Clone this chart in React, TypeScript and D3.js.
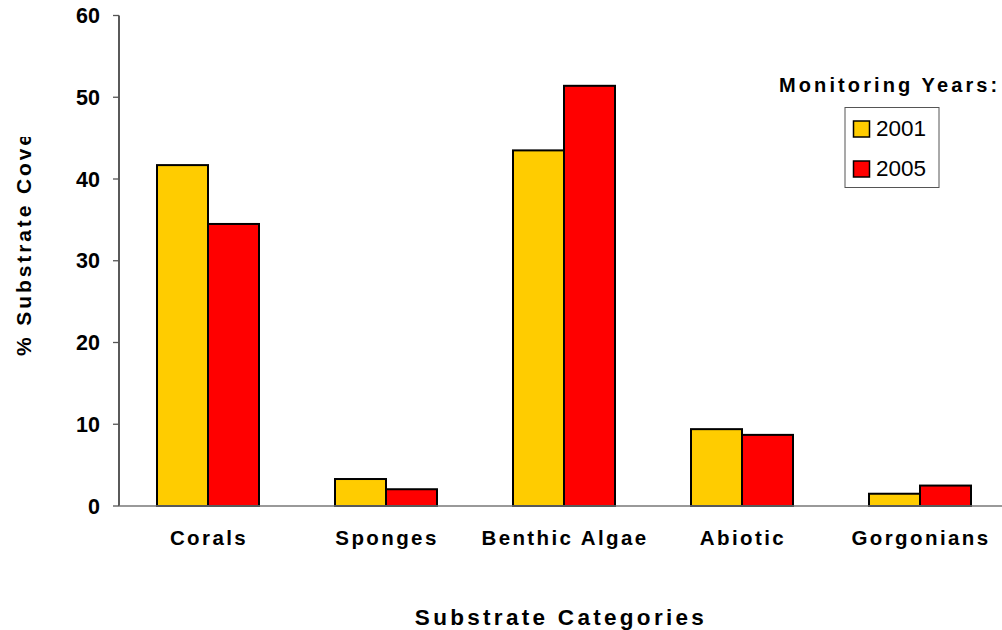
import React from "react";
import * as d3 from "d3";

const categories = ["Corals", "Sponges", "Benthic Algae", "Abiotic", "Gorgonians"];
const years = ["2001", "2005"];
const values2001 = [41.7, 3.3, 43.5, 9.4, 1.5];
const values2005 = [34.5, 2.05, 51.4, 8.7, 2.5];
const yTicks = [0, 10, 20, 30, 40, 50, 60];
const colors = ["#FFCC00", "#FF0000"];

const W = 1002;
const H = 630;
const FONT = "'Liberation Sans', Arial, Helvetica, sans-serif";

export default function App() {
  const series = [values2001, values2005];
  const y = d3.scaleLinear().domain([0, 60]).range([506, 15.5]);
  const x0 = d3.scaleBand<string>().domain(categories).range([119, 1009]).padding(0);
  const x1 = d3.scaleBand<string>().domain(years).range([0, 102]).padding(0);
  const axisX = 119;
  const baseY = y(0);

  return (
    <svg width={W} height={H} style={{ position: "absolute", left: 0, top: 0, background: "#fff" }}>
      <defs>
        <clipPath id="ytclip">
          <rect x={0} y={137} width={60} height={400} />
        </clipPath>
      </defs>
      <rect x={0} y={0} width={W} height={H} fill="#fff" />
      {categories.map((c, i) => {
        const cx = (x0(c) as number) + x0.bandwidth() / 2;
        return years.map((yr, j) => {
          const v = series[j][i];
          const xx = cx - 51 + (x1(yr) as number);
          return (
            <rect
              key={c + yr}
              x={xx}
              y={y(v)}
              width={x1.bandwidth()}
              height={baseY - y(v)}
              fill={colors[j]}
              stroke="#000"
              strokeWidth={2}
            />
          );
        });
      })}
      <line x1={axisX} y1={y(60)} x2={axisX} y2={baseY} stroke="#000" strokeWidth={1.3} />
      <line x1={axisX} y1={baseY} x2={W} y2={baseY} stroke="#777" strokeWidth={1.5} />
      {yTicks.map((t) => (
        <g key={t}>
          <line x1={axisX - 6} x2={axisX} y1={y(t)} y2={y(t)} stroke="#555" strokeWidth={1.3} />
          <text
            x={100}
            y={y(t) + 7.5}
            textAnchor="end"
            fontFamily={FONT}
            fontWeight="bold"
            fontSize={21.5}
            fill="#000"
          >
            {t}
          </text>
        </g>
      ))}
      {categories.map((c) => (
        <text
          key={c}
          x={(x0(c) as number) + x0.bandwidth() / 2 + 1}
          y={545}
          textAnchor="middle"
          fontFamily={FONT}
          fontWeight="bold"
          fontSize={20.5}
          letterSpacing={2.4}
          fill="#000"
        >
          {c}
        </text>
      ))}
      <text
        x={561}
        y={625}
        textAnchor="middle"
        fontFamily={FONT}
        fontWeight="bold"
        fontSize={22.5}
        letterSpacing={3.3}
        fill="#000"
      >
        Substrate Categories
      </text>
      <g clipPath="url(#ytclip)">
        <text
          transform="translate(31,356) rotate(-90)"
          x={0}
          y={0}
          textAnchor="start"
          fontFamily={FONT}
          fontWeight="bold"
          fontSize={21}
          letterSpacing={2.9}
          fill="#000"
        >
          % Substrate Cover
        </text>
      </g>
      <text
        x={779}
        y={92}
        fontFamily={FONT}
        fontWeight="bold"
        fontSize={20}
        letterSpacing={3.1}
        fill="#000"
      >
        Monitoring Years:
      </text>
      <rect x={845} y={107.5} width={94} height={80} fill="#fff" stroke="#555" strokeWidth={1} />
      {years.map((yr, j) => (
        <g key={yr}>
          <rect
            x={853.5}
            y={121 + j * 40}
            width={16}
            height={16}
            fill={colors[j]}
            stroke="#000"
            strokeWidth={1.5}
          />
          <text x={876} y={136 + j * 40} fontFamily={FONT} fontSize={22.5} fill="#000">
            {yr}
          </text>
        </g>
      ))}
    </svg>
  );
}
